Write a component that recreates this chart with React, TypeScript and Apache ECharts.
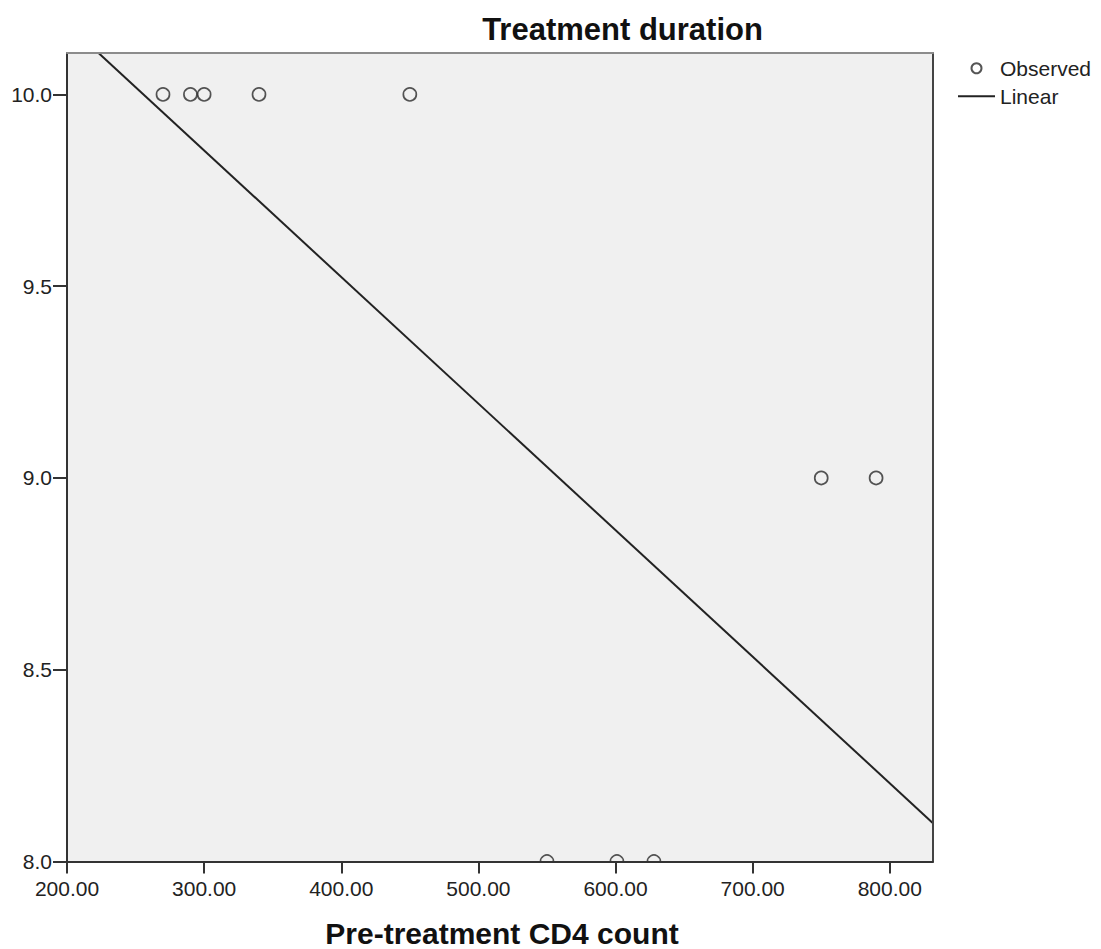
import React, { useEffect, useRef } from "react";
import * as echarts from "echarts";

// Observed data points (Pre-treatment CD4 count, Treatment duration)
const observedX = [270, 290, 300, 340, 450, 750, 790, 550, 601, 628];
const observedY = [10, 10, 10, 10, 10, 9, 9, 8, 8, 8];

// Linear fit line endpoints as drawn
const linearX = [223.0, 831.5];
const linearY = [10.108, 8.1];

const xTicks = [200, 300, 400, 500, 600, 700, 800];
const yTicks = [8.0, 8.5, 9.0, 9.5, 10.0];

const chartTitle = "Treatment duration";
const xTitle = "Pre-treatment CD4 count";
const seriesNames = ["Observed", "Linear"];

const FONT = '"Liberation Sans", Arial, Helvetica, sans-serif';

export default function App() {
  const ref = useRef<HTMLDivElement | null>(null);

  useEffect(() => {
    if (!ref.current) return;
    const chart = echarts.init(ref.current, null, { renderer: "svg" });

    const gridLeft = 67;
    const gridTop = 53;
    const gridRight = 1101 - 933;
    const gridBottom = 949 - 861.5;

    const option: any = {
      animation: false,
      backgroundColor: "#ffffff",
      textStyle: { fontFamily: FONT },
      grid: {
        left: gridLeft,
        top: gridTop,
        right: gridRight,
        bottom: gridBottom,
        show: true,
        backgroundColor: "#f0f0f0",
        borderWidth: 0,
      },
      legend: {
        orient: "vertical",
        left: 958,
        top: 57.8,
        padding: 0,
        itemWidth: 37,
        itemHeight: 10,
        itemGap: 7,
        symbolKeepAspect: true,
        textStyle: { fontSize: 21, color: "#222", fontFamily: FONT },
        data: [
          { name: seriesNames[0], icon: "circle" },
          { name: seriesNames[1], icon: "path://M0 0H37V2H0Z", itemStyle: { color: "#222" } },
        ],
      },
      xAxis: [
        {
          type: "value",
          position: "bottom",
          min: 200,
          max: 831.5,
          z: 20,
          axisLine: { show: true, onZero: false, lineStyle: { color: "#333", width: 2 } },
          axisTick: {
            show: true,
            length: 12,
            customValues: xTicks,
            lineStyle: { color: "#333", width: 2 },
          },
          axisLabel: {
            customValues: xTicks,
            formatter: (v: number) => v.toFixed(2),
            fontSize: 21,
            color: "#222",
            fontFamily: FONT,
            margin: 16,
          },
          splitLine: { show: false },
        },
        {
          type: "value",
          position: "top",
          min: 200,
          max: 831.5,
          z: 20,
          axisLine: { show: true, onZero: false, lineStyle: { color: "#8c8c8c", width: 2 } },
          axisTick: { show: false },
          axisLabel: { show: false },
          splitLine: { show: false },
        },
      ],
      yAxis: [
        {
          type: "value",
          position: "left",
          min: 8,
          max: 10.108,
          z: 20,
          axisLine: { show: true, onZero: false, lineStyle: { color: "#333", width: 2 } },
          axisTick: {
            show: true,
            length: 14,
            customValues: yTicks,
            lineStyle: { color: "#333", width: 2 },
          },
          axisLabel: {
            customValues: yTicks,
            formatter: (v: number) => v.toFixed(1),
            fontSize: 21,
            color: "#222",
            fontFamily: FONT,
            margin: 15,
          },
          splitLine: { show: false },
        },
        {
          type: "value",
          position: "right",
          min: 8,
          max: 10.108,
          z: 20,
          axisLine: { show: true, onZero: false, lineStyle: { color: "#444", width: 2 } },
          axisTick: { show: false },
          axisLabel: { show: false },
          splitLine: { show: false },
        },
      ],
      series: [
        {
          name: seriesNames[0],
          type: "scatter",
          xAxisIndex: 0,
          yAxisIndex: 0,
          symbol: "circle",
          symbolSize: 13,
          itemStyle: { color: "rgba(0,0,0,0)", borderColor: "#2a2a2a", borderWidth: 1.7 },
          data: observedX.map((x, i) => [x, observedY[i]]),
        },
        {
          name: seriesNames[1],
          type: "line",
          xAxisIndex: 0,
          yAxisIndex: 0,
          symbol: "none",
          showSymbol: false,
          lineStyle: { color: "#222", width: 2 },
          itemStyle: { color: "#222" },
          data: linearX.map((x, i) => [x, linearY[i]]),
        },
      ],
      graphic: [
        {
          type: "rect",
          z: 10,
          silent: true,
          shape: { x: 55, y: 862.5, width: 890, height: 9 },
          style: { fill: "#ffffff" },
        },
        {
          type: "text",
          x: 622.5,
          y: 29.6,
          style: {
            text: chartTitle,
            font: `bold 31px ${FONT}`,
            fill: "#111",
            align: "center",
            verticalAlign: "middle",
          },
        },
        {
          type: "text",
          x: 502,
          y: 933.5,
          style: {
            text: xTitle,
            font: `bold 30px ${FONT}`,
            fill: "#111",
            align: "center",
            verticalAlign: "middle",
          },
        },
      ],
    };

    chart.setOption(option);
    return () => chart.dispose();
  }, []);

  return (
    <div
      ref={ref}
      style={{ position: "fixed", left: 0, top: 0, width: 1101, height: 949, background: "#fff" }}
    />
  );
}
